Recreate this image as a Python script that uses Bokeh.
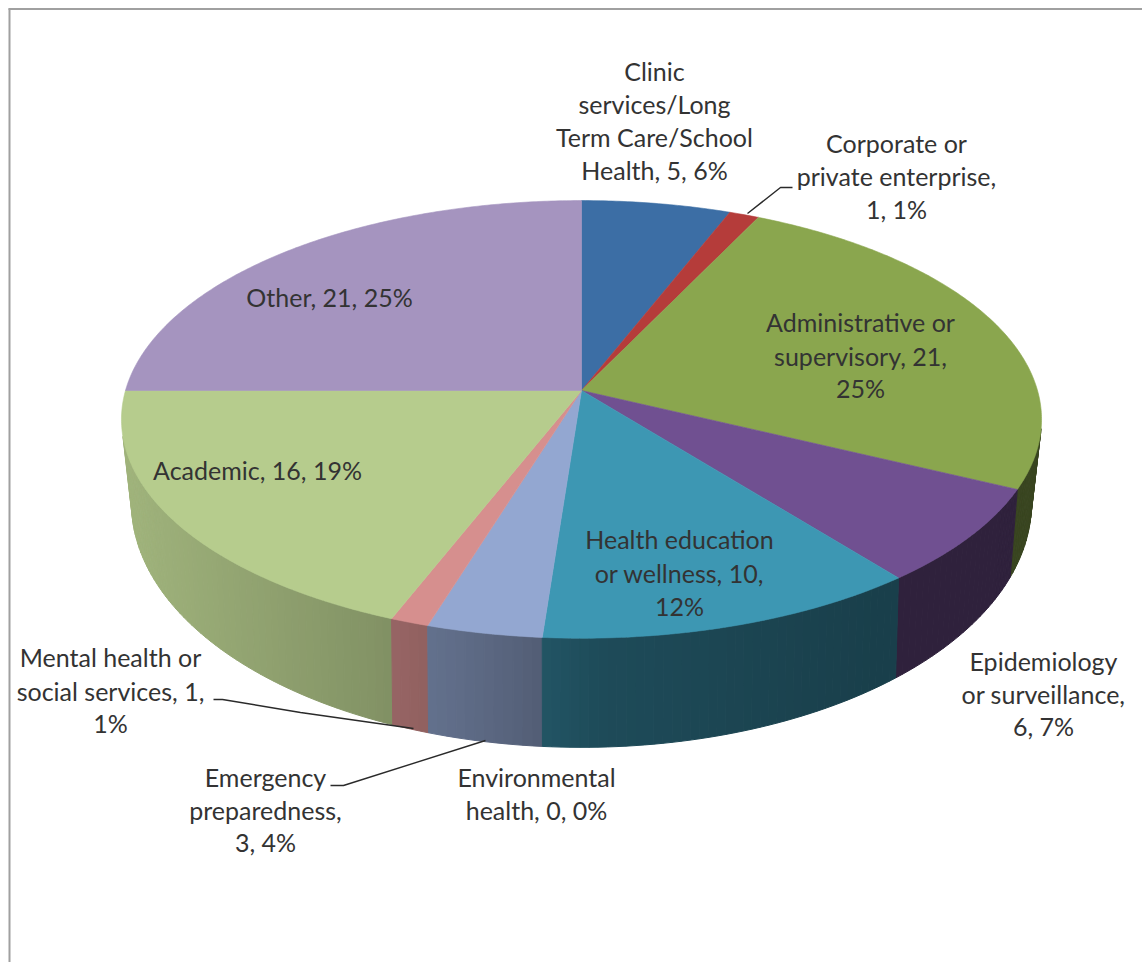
import numpy as np
from bokeh.plotting import figure
from bokeh.models import Range1d
from bokeh.core.properties import value
from bokeh.embed import file_html
from bokeh.resources import INLINE

# ---- data
categories = ["Clinic services/Long Term Care/School Health", "Corporate or private enterprise",
              "Administrative or supervisory", "Epidemiology or surveillance",
              "Health education or wellness", "Environmental health",
              "Emergency preparedness", "Mental health or social services",
              "Academic", "Other"]
counts = [5, 1, 21, 6, 10, 0, 3, 1, 16, 21]
percents = [6, 1, 25, 7, 12, 0, 4, 1, 19, 25]
colors = [(60, 110, 165), (181, 60, 58), (138, 166, 78), (112, 80, 145), (61, 151, 179),
          (147, 167, 209), (147, 167, 209), (214, 143, 142), (182, 204, 141), (165, 148, 191)]

# ---- label text: (lines, centre x, line mid y) in page pixels
labels = [
    (["Clinic", "services/Long", "Term Care/School", "Health, 5, 6%"], 654, [70, 103, 136, 169]),
    (["Corporate or", "private enterprise,", "1, 1%"], 896, [142, 175, 208]),
    (["Administrative or", "supervisory, 21,", "25%"], 860, [321, 355, 387]),
    (["Epidemiology", "or surveillance,", "6, 7%"], 1043, [660, 693, 725]),
    (["Health education", "or wellness, 10,", "12%"], 679, [538, 572, 605]),
    (["Environmental", "health, 0, 0%"], 536, [776, 809]),
    (["Emergency", "preparedness,", "3, 4%"], 265, [776, 809, 841]),
    (["Mental health or", "social services, 1,", "1%"], 110, [656, 690, 722]),
    (["Academic, 16, 19%"], 257, [469]),
    (["Other, 21, 25%"], 329, [296]),
]
leaders = [
    ([747, 780, 792], [213, 187, 187]),
    ([213, 222, 300, 413], [699, 699, 712, 728]),
    ([330, 343, 485], [785, 785, 740]),
]

# ---- projected disc geometry
TOP = dict(cx=581, cy=390, rx=456, a=215, k=0.132)
BOT = dict(cx=581, cy=466, rx=445, a=239, k=0.149)


def project(g, t):
    d = 1 + g["k"] * np.cos(t)
    return g["cx"] + g["rx"] * np.sin(t) / d, g["cy"] - g["a"] * np.cos(t) / d


SHADE_X = [130, 380, 480, 600, 880, 1040]
SHADE_F = [0.88, 0.72, 0.63, 0.50, 0.42, 0.42]


def shaded(rgb, x):
    f = float(np.interp(x, SHADE_X, SHADE_F))
    return "#%02x%02x%02x" % tuple(int(c * f) for c in rgb)


def solid(rgb):
    return "#%02x%02x%02x" % tuple(rgb)


p = figure(width=1142, height=962, x_range=Range1d(0, 1142), y_range=Range1d(962, 0),
           output_backend="svg", toolbar_location=None, min_border=0,
           x_axis_location=None, y_axis_location=None, outline_line_color=None)
p.grid.visible = False
p.background_fill_color = "white"
p.border_fill_color = "white"

# frame: only top and left edges fall within the picture
p.line([8, 1142], [8.5, 8.5], line_color="#a0a0a0", line_width=2)
p.line([9, 9], [8, 962], line_color="#a0a0a0", line_width=2)

edges = np.cumsum([0] + counts) / sum(counts) * 2 * np.pi

# side wall: small quads, sides first and the front last
WALL_LO, WALL_HI = np.radians(100), np.radians(258)
steps = []
for i, c in enumerate(counts):
    if c == 0:
        continue
    lo, hi = max(edges[i], WALL_LO), min(edges[i + 1], WALL_HI)
    if lo >= hi:
        continue
    n = max(2, int(np.degrees(hi - lo)))
    tt = np.linspace(lo, hi, n + 1)
    for a, b in zip(tt[:-1], tt[1:]):
        steps.append((a, b, colors[i]))
steps.sort(key=lambda s: -abs((s[0] + s[1]) / 2 - np.pi))
xs, ys, cols = [], [], []
for a, b, rgb in steps:
    ta = np.array([a, b])
    xt, yt = project(TOP, ta)
    xb, yb = project(BOT, ta)
    xs.append([xt[0], xt[1], xb[1], xb[0]])
    ys.append([yt[0], yt[1], yb[1], yb[0]])
    cols.append(shaded(rgb, float(np.mean(xs[-1]))))
p.patches(xs, ys, fill_color=cols, line_color=cols, line_width=1)

# top face
for i, c in enumerate(counts):
    if c == 0:
        continue
    tt = np.linspace(edges[i], edges[i + 1], max(3, int(c * 8)))
    x, y = project(TOP, tt)
    col = solid(colors[i])
    p.patch([TOP["cx"], *x], [TOP["cy"], *y], fill_color=col, line_color=col, line_width=0.6)

# leader lines
for lx, ly in leaders:
    p.line(lx, ly, line_color="#2a2a2a", line_width=1.4)

# labels
tx, ty, tt = [], [], []
for lines, cx, yy in labels:
    for s, y in zip(lines, yy):
        tx.append(cx)
        ty.append(y)
        tt.append(s)
p.text(tx, ty, text=tt, text_font=value("Lato"), text_font_size="25px", text_color="#333333",
       text_align="center", text_baseline="middle")

open("out.html", "w").write(file_html(p, INLINE))
